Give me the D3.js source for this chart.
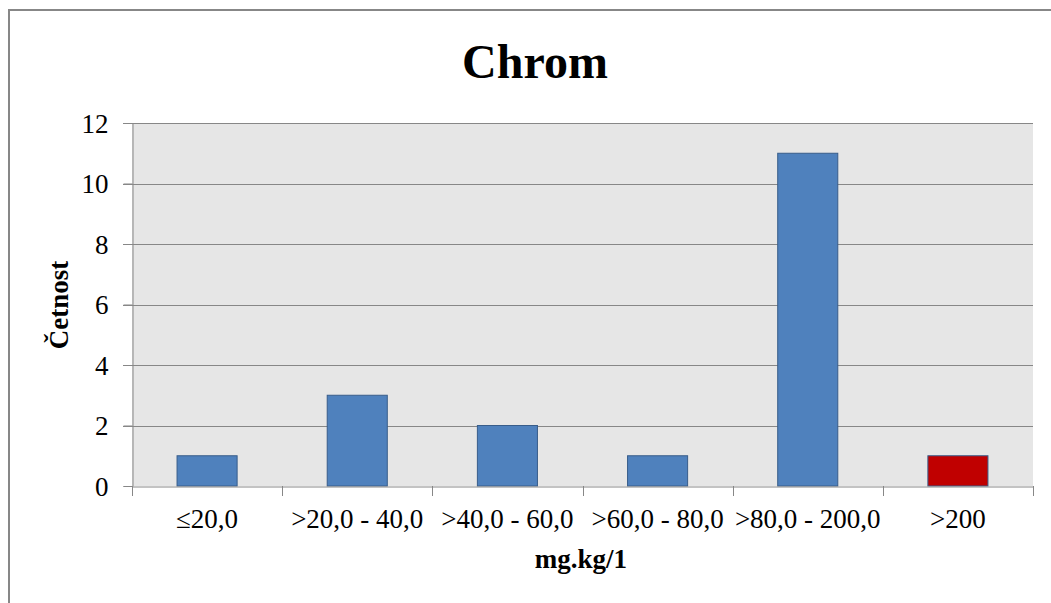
<!DOCTYPE html>
<html>
<head>
<meta charset="utf-8">
<script src="https://cdn.jsdelivr.net/npm/d3@7"></script>
<style>
  body { margin: 0; background: #fff; }
  text { font-family: "Liberation Serif", "Times New Roman", serif; fill: #000; }
</style>
</head>
<body>
<script>
// chart data
var categories = ["\u226420,0", ">20,0 - 40,0", ">40,0 - 60,0", ">60,0 - 80,0", ">80,0 - 200,0", ">200"]
var counts = [1, 3, 2, 1, 11, 1]
var barColors = ["#4f81bd", "#4f81bd", "#4f81bd", "#4f81bd", "#4f81bd", "#c00000"]
var yTicks = [0, 2, 4, 6, 8, 10, 12]

var width = 1051,
    height = 603,
    margin = {top: 123, right: 18, bottom: 117, left: 132}

var svg = d3.select("body")
  .append("svg")
  .attr("width", width)
  .attr("height", height)

// outer chart frame (runs off the right and bottom edge)
svg.append("rect")
  .attr("x", 9)
  .attr("y", 10)
  .attr("width", 1200)
  .attr("height", 800)
  .attr("fill", "none")
  .attr("stroke", "#878787")
  .attr("stroke-width", 2)

var x = d3.scaleBand()
  .domain(categories)
  .range([margin.left, width - margin.right])
  .paddingInner(0.6)
  .paddingOuter(0.3)

var xOuter = d3.scaleBand()
  .domain(categories)
  .range([margin.left, width - margin.right])

var y = d3.scaleLinear()
  .domain([0, 12])
  .range([height - margin.bottom, margin.top])

// plot background
svg.append("rect")
  .attr("x", margin.left)
  .attr("y", margin.top)
  .attr("width", width - margin.right - margin.left)
  .attr("height", height - margin.bottom - margin.top)
  .attr("fill", "#e6e6e6")

// gridlines
svg.append("g")
  .selectAll("line")
  .data(yTicks.filter(function(d) { return d > 0 }))
  .enter().append("line")
  .attr("x1", margin.left - 9)
  .attr("x2", width - margin.right)
  .attr("y1", function(d) { return Math.round(y(d)) + 0.5 })
  .attr("y2", function(d) { return Math.round(y(d)) + 0.5 })
  .attr("stroke", "#878787")
  .attr("stroke-width", 1)

// y axis
var yAxis = d3.axisLeft(y)
  .tickValues(yTicks)
  .tickSize(9)
  .tickPadding(15)

var gY = svg.append("g")
  .attr("transform", "translate(" + (margin.left + 0.5) + ",0)")
  .call(yAxis)
gY.select(".domain").attr("stroke", "#878787")
gY.selectAll(".tick line").attr("stroke", "#878787")
gY.selectAll(".tick text")
  .attr("font-size", 27)
  .attr("font-family", "Liberation Serif")
  .attr("dy", "0.34em")

// bars
svg.append("g")
  .selectAll("rect")
  .data(counts)
  .enter().append("rect")
  .attr("x", function(d, i) { return x(categories[i]) })
  .attr("y", function(d) { return y(d) })
  .attr("width", x.bandwidth())
  .attr("height", function(d) { return y(0) - y(d) })
  .attr("fill", function(d, i) { return barColors[i] })
  .attr("stroke", "#385d8a")
  .attr("stroke-width", 1)

// x axis with ticks at category boundaries
var xAxis = d3.axisBottom(x)
  .tickSize(0)
  .tickPadding(22)

var gX = svg.append("g")
  .attr("transform", "translate(0," + (y(0) + 0.5) + ")")
  .call(xAxis)
gX.select(".domain").attr("stroke", "#878787")
gX.selectAll(".tick text")
  .attr("font-size", 27)
  .attr("font-family", "Liberation Serif")
  .attr("dy", "0.71em")

var bounds = categories.map(function(c) { return xOuter(c) })
bounds.push(width - margin.right)
svg.append("g")
  .selectAll("line")
  .data(bounds)
  .enter().append("line")
  .attr("x1", function(d) { return Math.round(d) + 0.5 })
  .attr("x2", function(d) { return Math.round(d) + 0.5 })
  .attr("y1", y(0))
  .attr("y2", y(0) + 10)
  .attr("stroke", "#878787")

// title
svg.append("text")
  .attr("x", 535)
  .attr("y", 78)
  .attr("text-anchor", "middle")
  .attr("font-size", 48)
  .attr("font-weight", "bold")
  .text("Chrom")

// x axis title
svg.append("text")
  .attr("x", 581)
  .attr("y", 568)
  .attr("text-anchor", "middle")
  .attr("font-size", 27)
  .attr("font-weight", "bold")
  .text("mg.kg/1")

// y axis title
svg.append("text")
  .attr("transform", "translate(68,305) rotate(-90)")
  .attr("text-anchor", "middle")
  .attr("font-size", 27)
  .attr("font-weight", "bold")
  .text("Četnost")
</script>
</body>
</html>
